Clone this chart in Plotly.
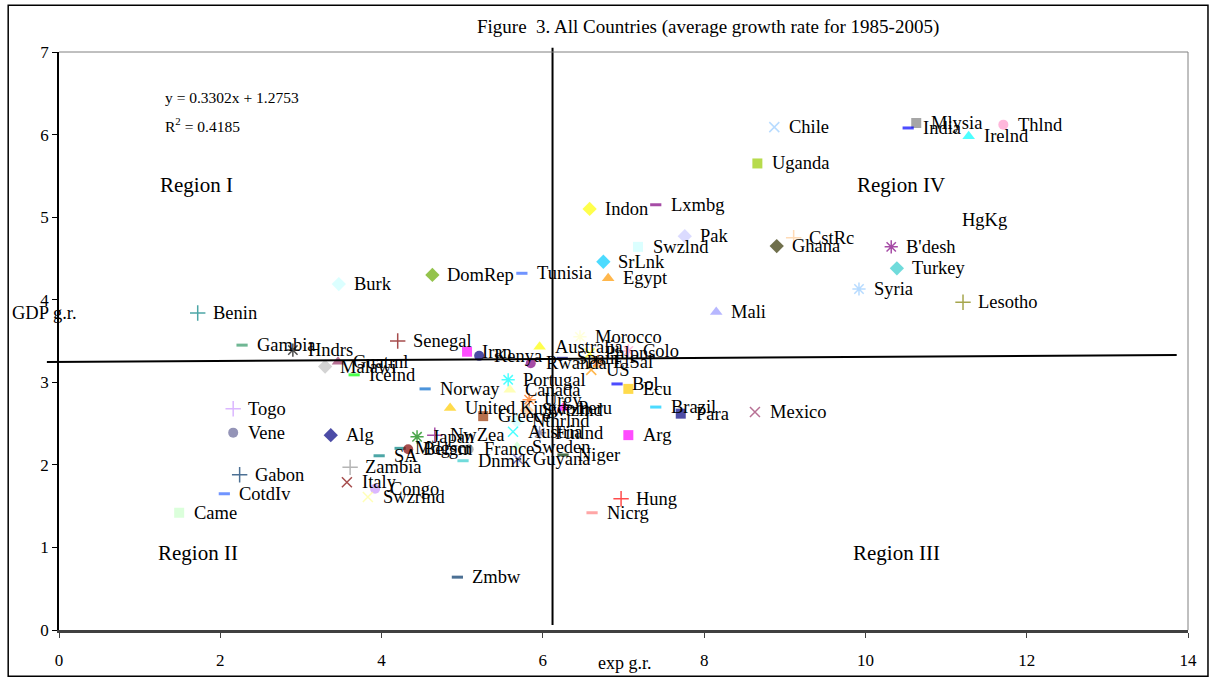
import plotly.graph_objects as go

# Country abbreviations, export growth (x) and GDP growth (y), 1985-2005 averages
countries = [
    "Chile", "Mlysia", "India", "Thlnd", "Irelnd", "Uganda", "Lxmbg", "Indon",
    "Pak", "Swzlnd", "CstRc", "Ghana", "SrLnk", "Egypt", "Tunisia", "B'desh",
    "HgKg", "Turkey", "Syria", "Lesotho", "Mali", "Burk", "DomRep", "Benin",
    "Senegal", "Gambia", "Hndrs", "Iran", "Kenya", "Guatml", "Malawi", "Icelnd",
    "Rwanda", "Australia", "Morocco", "Spain", "Phlpns", "ElSal", "US", "Colo",
    "Portugal", "Canada", "Norway", "Bol", "Ecu", "Brazil", "Para", "Mexico",
    "United Kingdom", "Greece", "Urgy", "Swtzlnd", "Peru", "Nthrlnd", "Austria",
    "Finlnd", "Japan", "NwZea", "Mdgscr", "Belgm", "SA", "France", "Dnmrk",
    "Sweden", "Guyana", "Niger", "Togo", "Vene", "Alg", "Gabon", "CotdIv",
    "Came", "Zambia", "Italy", "Congo", "Swzrlnd", "Zmbw", "Hung", "Nicrg", "Arg",
]
exp_gr = [
    8.87, 10.63, 10.53, 11.71, 11.28, 8.66, 7.40, 6.58,
    7.76, 7.18, 9.11, 8.90, 6.75, 6.81, 5.74, 10.32,
    11.01, 10.39, 9.92, 11.21, 8.15, 3.47, 4.63, 1.72,
    4.20, 2.27, 2.90, 5.06, 5.21, 3.46, 3.30, 3.66,
    5.85, 5.96, 6.46, 6.24, 6.58, 6.68, 6.60, 7.06,
    5.57, 5.59, 4.54, 6.92, 7.06, 7.40, 7.71, 8.63,
    4.85, 5.26, 5.83, 5.80, 6.25, 5.68, 5.63,
    5.96, 4.44, 4.66, 4.23, 4.33, 3.97, 5.08, 5.01,
    5.68, 5.69, 6.25, 2.16, 2.16, 3.37, 2.24, 2.05,
    1.49, 3.61, 3.57, 3.92, 3.83, 4.94, 6.97, 6.61, 7.06,
]
gdp_gr = [
    6.09, 6.14, 6.08, 6.12, 5.98, 5.65, 5.15, 5.10,
    4.77, 4.64, 4.75, 4.65, 4.46, 4.26, 4.32, 4.64,
    4.97, 4.38, 4.13, 3.97, 3.85, 4.19, 4.30, 3.84,
    3.50, 3.45, 3.39, 3.37, 3.32, 3.25, 3.19, 3.09,
    3.23, 3.43, 3.55, 3.29, 3.35, 3.25, 3.15, 3.38,
    3.03, 2.91, 2.92, 2.98, 2.92, 2.70, 2.62, 2.64,
    2.69, 2.59, 2.79, 2.66, 2.69, 2.53, 2.40,
    2.39, 2.34, 2.36, 2.20, 2.19, 2.11, 2.19, 2.05,
    2.22, 2.07, 2.12, 2.68, 2.39, 2.36, 1.88, 1.65,
    1.42, 1.97, 1.79, 1.71, 1.61, 0.64, 1.59, 1.42, 2.36,
]

# Marker style per country (symbol code, colour)
marker_kind = [
    "x", "sq", "dash", "ci", "tri", "sq", "dash", "dia",
    "dia", "sq", "plus", "dia", "dia", "tri", "dash", "ast",
    "none", "dia", "ast", "plus", "tri", "dia", "dia", "plus",
    "plus", "dash", "ast", "sq", "ci", "tri", "dia", "dash",
    "ci", "tri", "ast", "dash", "x", "ast", "x", "ast",
    "ast", "tri", "dash", "dash", "sq", "dash", "sq", "x",
    "tri", "sq", "ast", "dia", "tri", "dia", "x",
    "ast", "ast", "plus", "dash", "ci", "dash", "ci", "dash",
    "tri", "x", "dash", "plus", "ci", "dia", "plus", "dash",
    "sq", "plus", "x", "ci", "x", "dash", "plus", "dash", "sq",
]
marker_color = [
    "#99ccff", "#808080", "#0000ff", "#ff99cc", "#00ffff", "#99cc00", "#800080", "#ffff00",
    "#ccccff", "#ccffff", "#ffcc99", "#333300", "#00ccff", "#ff9900", "#3366ff", "#800080",
    "#ffffff", "#33cccc", "#99ccff", "#808000", "#9999ff", "#ccffff", "#66aa00", "#008080",
    "#800000", "#339966", "#000000", "#ff00ff", "#000080", "#993366", "#c0c0c0", "#00ff00",
    "#800080", "#ffff00", "#ffffcc", "#000080", "#ffff00", "#ff6600", "#ff9900", "#ff99cc",
    "#00ffff", "#ffff99", "#0066cc", "#0000ff", "#ffcc00", "#00ccff", "#000080", "#993366",
    "#ffcc00", "#993300", "#ff6600", "#ffcc99", "#ff00ff", "#ccffff", "#00ffff",
    "#666699", "#008000", "#800080", "#008080", "#800000", "#008080", "#969696", "#33cccc",
    "#ccffcc", "#333399", "#003300", "#cc99ff", "#666699", "#000080", "#003366", "#3366ff",
    "#ccffcc", "#969696", "#800000", "#cc99ff", "#ffff99", "#003366", "#ff0000", "#ff8080", "#ff00ff",
]

# Region dividers: (x0, y0, x1, y1) in data units
horiz_divider = (-0.15, 3.245, 13.86, 3.33)
vert_divider = (6.12, 0.06, 6.12, 7.05)
X_RANGE = (0, 14)
Y_RANGE = (0, 7)

SYMBOLS = {
    "sq": ("square", 10, 0), "dia": ("diamond", 11, 0), "tri": ("triangle-up", 11, 0),
    "ci": ("circle", 10, 0), "x": ("x-thin-open", 10, 1.5), "plus": ("cross-thin-open", 11, 1.5),
    "ast": ("asterisk-open", 11, 1.5), "dash": ("line-ew-open", 8, 3), "none": ("circle", 1, 0),
}
sym = [SYMBOLS[k][0] for k in marker_kind]
size = [SYMBOLS[k][1] for k in marker_kind]
lw = [SYMBOLS[k][2] for k in marker_kind]

SERIF = "Liberation Serif, Times New Roman, serif"

fig = go.Figure()
fig.add_trace(go.Scatter(
    x=exp_gr, y=gdp_gr, mode="markers",
    marker=dict(symbol=sym, size=size, color=marker_color,
                line=dict(color=marker_color, width=lw)),
    hovertext=countries, hoverinfo="text", showlegend=False,
))

annotations = []
for name, xv, yv in zip(countries, exp_gr, gdp_gr):
    annotations.append(dict(x=xv, y=yv, xref="x", yref="y", text=name, showarrow=False,
                            xanchor="left", yanchor="middle", xshift=13,
                            font=dict(family=SERIF, size=18.5, color="black")))

# Quadrant captions and regression note
regions = [("Region I", 1.70, 5.39), ("Region II", 1.72, 0.93),
           ("Region III", 10.39, 0.93), ("Region IV", 10.44, 5.39)]
for txt, xv, yv in regions:
    annotations.append(dict(x=xv, y=yv, xref="x", yref="y", text=txt, showarrow=False,
                            xanchor="center", yanchor="middle",
                            font=dict(family=SERIF, size=21, color="black")))
annotations.append(dict(x=1.29, y=6.455, xref="x", yref="y", xanchor="left", yanchor="middle",
                        text="y = 0.3302x + 1.2753", showarrow=False,
                        font=dict(family=SERIF, size=15.5, color="black")))
annotations.append(dict(x=1.29, y=6.12, xref="x", yref="y", xanchor="left", yanchor="middle",
                        text="R<sup>2</sup> = 0.4185", showarrow=False,
                        font=dict(family=SERIF, size=15.5, color="black")))

annotations.append(dict(x=0.575, y=1.043, xref="paper", yref="paper",
                        text="Figure  3. All Countries (average growth rate for 1985-2005)",
                        showarrow=False, xanchor="center", yanchor="middle",
                        font=dict(family=SERIF, size=19, color="black")))
annotations.append(dict(x=-0.043, y=3.84, xref="paper", yref="y", text="GDP g.r.",
                        showarrow=False, xanchor="left", yanchor="middle",
                        font=dict(family=SERIF, size=18.5, color="black")))
annotations.append(dict(x=7.02, y=-0.057, xref="x", yref="paper", text="exp g.r.",
                        showarrow=False, xanchor="center", yanchor="middle",
                        font=dict(family=SERIF, size=18, color="black")))


def to_paper(seg):
    x0, y0, x1, y1 = seg
    xs = X_RANGE[1] - X_RANGE[0]
    ys = Y_RANGE[1] - Y_RANGE[0]
    return dict(x0=(x0 - X_RANGE[0]) / xs, y0=(y0 - Y_RANGE[0]) / ys,
                x1=(x1 - X_RANGE[0]) / xs, y1=(y1 - Y_RANGE[0]) / ys)


shapes = [
    # dividing lines between regions
    dict(type="line", xref="paper", yref="paper", **to_paper(horiz_divider),
         line=dict(color="black", width=2)),
    dict(type="line", xref="paper", yref="paper", **to_paper(vert_divider),
         line=dict(color="black", width=2)),
    # plot frame (top and right)
    dict(type="line", xref="paper", yref="paper", x0=0, y0=1, x1=1, y1=1,
         line=dict(color="#808080", width=1)),
    dict(type="line", xref="paper", yref="paper", x0=1, y0=0, x1=1, y1=1,
         line=dict(color="#808080", width=1)),
    # outer chart border
    dict(type="rect", xref="paper", yref="paper", x0=-0.045, y0=-0.08, x1=1.0177, y1=1.081,
         line=dict(color="black", width=1.5), fillcolor="rgba(0,0,0,0)"),
]

fig.update_layout(
    width=1214, height=678,
    margin=dict(l=59, r=26, t=52, b=48, autoexpand=False),
    paper_bgcolor="white", plot_bgcolor="white",
    font=dict(family=SERIF, size=17, color="black"),
    annotations=annotations, shapes=shapes,
    xaxis=dict(range=list(X_RANGE), dtick=2, tick0=0, showgrid=False, zeroline=False,
               showline=True, linecolor="#404040", linewidth=3, automargin=False,
               ticks="outside", ticklen=5, tickcolor="#404040",
               tickfont=dict(family=SERIF, size=17), ticklabelstandoff=8),
    yaxis=dict(range=list(Y_RANGE), dtick=1, tick0=0, showgrid=False, zeroline=False,
               showline=True, linecolor="black", linewidth=1.5, automargin=False,
               ticks="outside", ticklen=5, tickcolor="black",
               tickfont=dict(family=SERIF, size=17)),
)

fig.write_html("out.html")
